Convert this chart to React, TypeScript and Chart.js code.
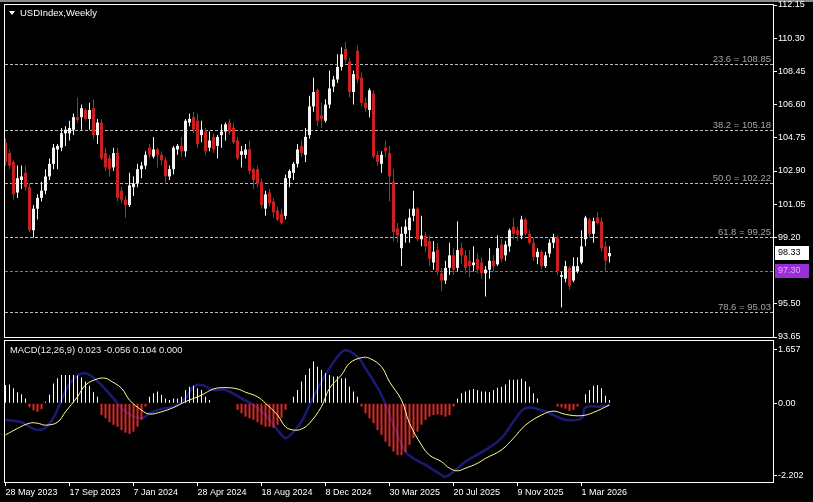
import { useEffect, useRef } from 'react';
import { Chart, registerables } from 'chart.js';

Chart.register(...registerables);

const FONT = '"Liberation Sans", Arial, sans-serif';

const chartTitle = 'USDIndex,Weekly';
const macdTitle = 'MACD(12,26,9) 0.023 -0.056 0.104 0.000';

// Weekly candles, one per week starting 28 May 2023
const opens = [
  104.5, 103.9, 103.4, 101.7, 102.4, 102.8, 102.0, 99.6, 100.8, 101.4,
  101.8, 102.6, 103.3, 104.1, 104.2, 105.0, 105.0, 105.2, 105.9, 105.9,
  106.3, 105.8, 106.4, 104.9, 105.6, 103.9, 103.6, 103.1, 103.9, 101.8,
  101.3, 101.0, 102.0, 102.2, 103.0, 103.2, 104.2, 103.7, 104.1, 103.8,
  103.5, 102.6, 103.0, 104.1, 104.3, 104.0, 105.6, 105.9, 105.7, 104.9,
  105.1, 104.2, 104.8, 104.3, 104.9, 105.1, 105.6, 105.3, 104.6, 103.8,
  103.8, 104.1, 103.0, 103.0, 102.3, 100.8, 101.7, 101.2, 100.7, 100.5,
  100.4, 102.5, 102.8, 103.3, 104.3, 103.8, 104.9, 106.5, 107.4, 106.0,
  105.7, 106.6, 107.6, 108.0, 108.7, 109.7, 109.0, 107.3, 109.6, 108.1,
  106.7, 106.3, 107.2, 103.8, 103.3, 104.2, 103.9, 102.3, 99.7, 98.6,
  99.4, 99.6, 100.4, 100.8, 99.1, 99.3, 99.0, 97.8, 98.5, 97.2,
  96.8, 97.5, 98.2, 97.5, 98.6, 98.2, 97.9, 97.65, 98.0, 97.8,
  97.2, 97.4, 97.9, 97.7, 98.8, 98.2, 98.7, 99.8, 99.6, 99.3,
  100.2, 99.4, 98.9, 98.1, 98.4, 97.6, 98.3, 98.9, 99.2, 97.0,
  96.9, 97.5, 96.8, 97.3, 97.8, 99.1, 100.2, 99.4, 100.3, 100.1,
  98.7, 98.15,
];
const highs = [
  104.7, 104.1, 103.5, 103.2, 103.2, 103.2, 102.2, 101.0, 101.6, 102.3,
  103.0, 103.6, 104.4, 104.4, 105.3, 105.4, 105.7, 106.1, 107.0, 106.6,
  106.4, 106.7, 106.9, 105.8, 105.8, 104.2, 103.8, 104.2, 104.2, 102.0,
  101.5, 102.8, 102.6, 103.3, 103.4, 104.0, 104.4, 104.8, 104.2, 104.0,
  103.7, 103.2, 104.3, 104.4, 104.8, 105.8, 106.1, 106.2, 106.1, 105.7,
  105.3, 105.1, 105.0, 104.9, 105.5, 105.6, 105.8, 105.6, 104.8, 104.3,
  104.4, 104.6, 103.1, 103.2, 102.5, 101.8, 101.9, 101.4, 100.9, 100.8,
  102.7, 103.0, 103.4, 104.4, 104.6, 105.3, 107.1, 108.1, 107.5, 106.7,
  106.9, 108.5, 108.2, 109.4, 109.8, 110.1, 109.2, 108.5, 109.9, 108.4,
  107.0, 107.5, 107.4, 104.0, 104.0, 104.6, 104.3, 103.0, 100.0, 99.8,
  100.2, 100.8, 101.8, 100.9, 100.4, 99.5, 99.3, 99.0, 98.9, 97.5,
  97.9, 98.9, 98.6, 100.1, 98.9, 98.5, 98.5, 98.7, 98.3, 98.1,
  97.6, 98.6, 98.2, 99.3, 99.1, 99.0, 99.7, 100.3, 99.8, 100.4,
  100.3, 99.6, 99.2, 98.6, 98.5, 98.4, 99.1, 99.4, 99.3, 97.3,
  97.9, 97.6, 98.1, 98.1, 99.6, 100.4, 100.3, 100.3, 100.6, 100.3,
  99.0, 98.7,
];
const lows = [
  103.2, 103.0, 101.3, 101.4, 101.9, 101.8, 99.5, 99.2, 100.2, 101.2,
  101.6, 102.4, 103.0, 103.0, 104.0, 104.3, 104.6, 104.9, 105.6, 105.2,
  105.7, 105.2, 104.7, 104.4, 103.5, 102.9, 102.6, 102.9, 101.2, 101.1,
  100.3, 100.9, 101.5, 102.0, 102.5, 103.0, 103.6, 103.6, 103.1, 103.2,
  102.2, 102.4, 102.7, 103.8, 103.7, 103.7, 105.4, 105.0, 104.2, 104.5,
  103.8, 104.0, 103.9, 103.6, 104.2, 104.6, 104.9, 104.4, 103.5, 103.1,
  103.6, 102.7, 101.9, 102.0, 100.8, 100.4, 100.9, 100.3, 100.1, 99.9,
  100.2, 102.0, 102.4, 103.1, 103.7, 103.4, 104.7, 106.2, 105.4, 105.3,
  105.6, 106.4, 107.3, 107.8, 108.5, 108.9, 107.0, 106.6, 107.8, 106.5,
  106.2, 105.9, 103.6, 103.2, 102.8, 103.7, 101.2, 99.0, 98.9, 97.6,
  98.9, 98.9, 100.1, 99.0, 98.7, 98.4, 97.6, 97.4, 97.1, 96.2,
  96.6, 97.1, 97.1, 97.3, 97.7, 97.2, 97.0, 97.3, 97.2, 96.9,
  95.9, 96.9, 97.3, 97.6, 97.8, 97.9, 98.4, 99.1, 99.0, 99.1,
  99.3, 98.8, 97.9, 97.7, 97.4, 97.5, 98.1, 98.6, 97.1, 95.3,
  96.7, 96.3, 96.7, 97.2, 97.7, 98.7, 99.2, 98.9, 99.9, 98.4,
  97.3, 97.8,
];
const closes = [
  103.4, 103.2, 101.6, 102.5, 102.6, 102.0, 99.6, 100.8, 101.4, 101.8,
  102.6, 103.3, 104.2, 104.3, 105.0, 105.2, 105.3, 105.9, 105.75, 106.4,
  105.8, 106.3, 104.9, 105.6, 103.6, 103.1, 103.0, 103.9, 101.4, 101.3,
  101.0, 102.1, 102.2, 103.0, 103.2, 103.8, 103.8, 104.1, 103.8, 103.5,
  102.6, 103.0, 104.2, 104.3, 104.0, 105.7, 105.8, 105.2, 104.4, 105.2,
  104.0, 104.6, 104.1, 104.8, 105.1, 105.5, 105.1, 104.5, 103.6, 104.0,
  104.1, 102.9, 102.4, 102.2, 101.0, 101.6, 101.1, 100.6, 100.2, 100.0,
  102.5, 102.9, 103.3, 104.1, 103.9, 104.8, 106.5, 107.3, 105.7, 105.8,
  106.6, 107.5, 108.0, 108.7, 109.4, 109.1, 107.3, 108.3, 108.0, 106.7,
  106.4, 107.4, 103.7, 103.4, 103.8, 104.0, 102.6, 99.5, 99.3, 99.4,
  99.8, 100.3, 100.8, 99.1, 99.3, 98.7, 98.0, 98.4, 97.3, 96.8,
  97.5, 98.2, 97.4, 98.5, 98.2, 97.5, 97.6, 97.8, 97.4, 97.2,
  97.4, 97.9, 97.6, 98.6, 98.0, 98.8, 99.6, 99.4, 99.35, 100.2,
  99.4, 98.9, 98.1, 98.4, 97.6, 98.2, 98.9, 99.2, 97.3, 97.1,
  97.6, 96.5, 97.6, 97.6, 98.7, 100.3, 99.4, 100.1, 100.0, 98.6,
  97.9, 98.33,
];

const priceTicks = [112.15, 110.3, 108.45, 106.6, 104.75, 102.9, 101.05, 99.2, 95.5, 93.65];
const fibPercents = ['23.6', '38.2', '50.0', '61.8', '78.6'];
const fibLevels = [108.85, 105.18, 102.22, 99.25, 95.03];
const supportLevel = 97.3;
const lastPrice = 98.33;

const dateTickBars = [0, 16, 32, 48, 64, 80, 96, 112, 128, 144];
const dateTickLabels = [
  '28 May 2023', '17 Sep 2023', '7 Jan 2024', '28 Apr 2024', '18 Aug 2024',
  '8 Dec 2024', '30 Mar 2025', '20 Jul 2025', '9 Nov 2025', '1 Mar 2026',
];

const macdHist = [
  0.56, 0.58, 0.46, 0.34, 0.28, 0.15, -0.12, -0.22, -0.26, -0.18,
  0.05, 0.26, 0.61, 0.77, 0.87, 0.87, 0.87, 0.87, 0.85, 0.79,
  0.67, 0.54, 0.34, 0.2, -0.36, -0.46, -0.58, -0.66, -0.72, -0.82,
  -0.9, -0.94, -0.87, -0.72, -0.51, -0.1, 0.2, 0.31, 0.36, 0.26,
  0.15, 0.1, 0.15, 0.15, 0.2, 0.41, 0.51, 0.54, 0.46, 0.41,
  0.2, 0.1, 0, 0.02, 0.02, 0, 0.02, 0, -0.2, -0.31,
  -0.41, -0.46, -0.51, -0.58, -0.66, -0.72, -0.72, -0.75, -0.66, -0.45,
  -0.2, 0, 0.2, 0.41, 0.67, 0.87, 1.07, 1.28, 1.12, 1.02,
  0.92, 0.87, 0.82, 0.82, 0.77, 0.77, 0.51, 0.36, 0.2, -0.1,
  -0.31, -0.46, -0.61, -0.82, -0.97, -1.18, -1.33, -1.48, -1.59, -1.59,
  -1.5, -1.28, -1.07, -0.87, -0.66, -0.51, -0.41, -0.36, -0.34, -0.36,
  -0.41, -0.36, -0.1, 0.15, 0.31, 0.36, 0.41, 0.44, 0.41, 0.36,
  0.36, 0.34, 0.41, 0.48, 0.51, 0.58, 0.72, 0.72, 0.72, 0.75,
  0.67, 0.51, 0.31, 0.15, 0.02, 0, 0, 0.02, -0.1, -0.13,
  -0.17, -0.23, -0.2, -0.1, 0, 0.28, 0.41, 0.54, 0.56, 0.46,
  0.23, 0.1,
];

// Signal line (yellow), read at these bars
const signalBars = [0, 3, 6, 8, 10, 13, 15, 18, 20, 23, 25, 26, 29, 31, 34, 36, 39, 42, 45, 49, 52, 55, 58, 60, 63, 65, 68, 70, 72, 74, 76, 79, 81, 84, 86, 89, 91, 94, 96, 99, 101, 104, 106, 109, 111, 113, 115, 118, 120, 124, 127, 130, 134, 137, 140, 144, 147, 151];
const signalValues = [-0.97, -0.77, -0.61, -0.61, -0.67, -0.58, -0.26, 0.2, 0.56, 0.75, 0.77, 0.71, 0.46, 0.1, -0.21, -0.33, -0.26, -0.13, 0.05, 0.25, 0.44, 0.48, 0.44, 0.34, 0.2, 0.0, -0.36, -0.72, -0.82, -0.79, -0.61, -0.1, 0.46, 0.87, 1.23, 1.4, 1.38, 1.12, 0.66, 0.1, -0.61, -1.28, -1.59, -1.79, -1.99, -2.07, -1.99, -1.84, -1.69, -1.43, -1.07, -0.67, -0.36, -0.24, -0.34, -0.38, -0.28, -0.05];

// MACD main line (blue), read at these bars
const macdLineBars = [0, 4, 6, 8, 10, 12, 14, 16, 19, 21, 24, 27, 30, 34, 36, 39, 42, 45, 47, 49, 52, 55, 59, 62, 65, 69, 70, 72, 74, 77, 80, 83, 85, 88, 90, 94, 97, 100, 102, 105, 109, 110, 112, 115, 120, 124, 127, 130, 134, 137, 140, 144, 145, 149, 151];
const macdLineValues = [-0.51, -0.58, -0.72, -0.82, -0.75, -0.45, 0.1, 0.6, 0.92, 0.87, 0.56, 0.15, -0.26, -0.46, -0.31, -0.17, -0.1, 0.15, 0.51, 0.56, 0.41, 0.41, 0.15, -0.05, -0.36, -0.97, -1.07, -0.87, -0.56, 0.2, 0.87, 1.43, 1.63, 1.43, 1.07, 0.25, -0.67, -1.48, -1.69, -1.89, -2.2, -2.25, -2.1, -1.79, -1.43, -1.07, -0.56, -0.15, -0.21, -0.36, -0.51, -0.46, -0.13, -0.1, -0.05];

const macdTicks = [1.657, 0, -2.202];
const macdTickLabels = ['1.657', '0.00', '-2.202'];

const BULL = '#f4f4f4';
const BEAR = '#cc1f1f';
const HIST_UP = '#ffffff';
const HIST_DOWN = '#e02626';
const X_MIN = -0.125;
const X_MAX = 191.875;

const candleColors = opens.map((o, i) => (closes[i] >= o ? BULL : BEAR));

const mainDecor = {
  id: 'mainDecor',
  beforeDraw(chart: any) {
    const { ctx, width, height } = chart;
    ctx.save();
    ctx.fillStyle = '#000';
    ctx.fillRect(0, 0, width, height);
    ctx.fillStyle = '#8a8a8a';
    ctx.fillRect(0, 0, width, 2);
    ctx.restore();
  },
  beforeDatasetsDraw(chart: any) {
    const { ctx, chartArea: a, scales } = chart;
    const y = scales.y;
    ctx.save();
    ctx.lineWidth = 1;
    ctx.setLineDash([3, 2]);
    ctx.font = `9.5px ${FONT}`;
    ctx.textAlign = 'right';
    ctx.textBaseline = 'alphabetic';
    fibLevels.forEach((lv, k) => {
      const py = Math.round(y.getPixelForValue(lv)) + 0.5;
      ctx.strokeStyle = '#bcbcbc';
      ctx.beginPath();
      ctx.moveTo(a.left, py);
      ctx.lineTo(a.right, py);
      ctx.stroke();
      ctx.fillStyle = '#a4a4a4';
      ctx.fillText(`${fibPercents[k]} = ${lv.toFixed(2)}`, a.right - 2, py - 2.5);
    });
    const sy = Math.round(y.getPixelForValue(supportLevel)) + 0.5;
    ctx.strokeStyle = '#7d6fae';
    ctx.beginPath();
    ctx.moveTo(a.left, sy);
    ctx.lineTo(a.right, sy);
    ctx.stroke();
    ctx.restore();
  },
  afterDraw(chart: any) {
    const { ctx, chartArea: a, scales } = chart;
    const y = scales.y;
    ctx.save();
    ctx.strokeStyle = '#ffffff';
    ctx.lineWidth = 1;
    ctx.strokeRect(a.left - 0.5, a.top - 0.5, a.right - a.left + 1, a.bottom - a.top + 1);
    // title
    ctx.fillStyle = '#ffffff';
    ctx.beginPath();
    ctx.moveTo(9, 11);
    ctx.lineTo(15, 11);
    ctx.lineTo(12, 15);
    ctx.closePath();
    ctx.fill();
    ctx.font = `9.5px ${FONT}`;
    ctx.textAlign = 'left';
    ctx.textBaseline = 'middle';
    ctx.fillText(chartTitle, 20, 13);
    // price boxes
    ctx.font = `9px ${FONT}`;
    const ly = y.getPixelForValue(lastPrice);
    ctx.fillStyle = '#ffffff';
    ctx.fillRect(775, Math.round(ly) - 7, 34, 14);
    ctx.fillStyle = '#000000';
    ctx.fillText(lastPrice.toFixed(2), 778, Math.round(ly));
    const sy = y.getPixelForValue(supportLevel);
    ctx.fillStyle = '#9b2fd6';
    ctx.fillRect(775, Math.round(sy) - 7, 34, 14);
    ctx.fillStyle = '#d8b0ff';
    ctx.fillText(supportLevel.toFixed(2), 778, Math.round(sy));
    ctx.restore();
  },
};

const macdDecor = {
  id: 'macdDecor',
  beforeDraw(chart: any) {
    const { ctx, width, height } = chart;
    ctx.save();
    ctx.fillStyle = '#000';
    ctx.fillRect(0, 0, width, height);
    ctx.restore();
  },
  afterDraw(chart: any) {
    const { ctx, chartArea: a } = chart;
    ctx.save();
    ctx.strokeStyle = '#ffffff';
    ctx.lineWidth = 1;
    ctx.strokeRect(a.left - 0.5, a.top - 0.5, a.right - a.left + 1, a.bottom - a.top + 1);
    ctx.fillStyle = '#ececec';
    ctx.font = `9.4px ${FONT}`;
    ctx.textAlign = 'left';
    ctx.textBaseline = 'middle';
    ctx.fillText(macdTitle, 10, 10);
    ctx.restore();
  },
};

const axisFont = { family: FONT, size: 9 };

function mainConfig(): any {
  return {
    type: 'bar',
    data: {
      datasets: [
        {
          label: 'wicks',
          data: highs.map((h, i) => ({ x: i, y: [lows[i], h] })),
          backgroundColor: candleColors,
          barThickness: 1,
          grouped: false,
          borderWidth: 0,
          inflateAmount: 0,
          order: 2,
        },
        {
          label: 'bodies',
          data: opens.map((o, i) => ({ x: i, y: [o, closes[i]] })),
          backgroundColor: candleColors,
          barThickness: 3,
          grouped: false,
          borderWidth: 0,
          inflateAmount: 0,
          minBarLength: 1,
          order: 1,
        },
      ],
    },
    options: {
      responsive: false,
      maintainAspectRatio: false,
      animation: false,
      devicePixelRatio: 1,
      events: [],
      layout: { padding: { left: 5, top: 5, right: 0, bottom: 3 } },
      plugins: { legend: { display: false }, tooltip: { enabled: false }, title: { display: false } },
      scales: {
        x: { type: 'linear', min: X_MIN, max: X_MAX, display: false, offset: false, grid: { offset: false } },
        y: {
          type: 'linear',
          position: 'right',
          min: 93.65,
          max: 112.15,
          beginAtZero: false,
          afterBuildTicks: (s: any) => {
            s.ticks = priceTicks.map((v) => ({ value: v }));
          },
          afterFit: (s: any) => {
            s.width = 40;
            s.paddingTop = 0;
            s.paddingBottom = 0;
          },
          ticks: {
            color: '#ffffff',
            font: axisFont,
            padding: 1,
            callback: (v: any) => Number(v).toFixed(2),
          },
          grid: { drawOnChartArea: false, color: '#ffffff', tickLength: 4 },
          border: { color: '#ffffff' },
        },
      },
    },
    plugins: [mainDecor],
  };
}

function macdConfig(): any {
  return {
    type: 'bar',
    data: {
      datasets: [
        {
          type: 'bar',
          label: 'hist up',
          data: macdHist.map((v, i) => ({ x: i, y: v >= 0 ? v : null })),
          backgroundColor: HIST_UP,
          barThickness: 1,
          borderWidth: 0,
          inflateAmount: 0,
          grouped: false,
          order: 2,
        },
        {
          type: 'bar',
          label: 'hist down',
          data: macdHist.map((v, i) => ({ x: i, y: v < 0 ? v : null })),
          backgroundColor: HIST_DOWN,
          barThickness: 2,
          borderWidth: 0,
          inflateAmount: 0,
          grouped: false,
          order: 2,
        },
        {
          type: 'line',
          label: 'macd',
          data: macdLineBars.map((b, k) => ({ x: b, y: macdLineValues[k] })),
          borderColor: 'rgba(30,30,140,0.85)',
          borderWidth: 2.5,
          pointRadius: 0,
          tension: 0.4,
          fill: false,
          order: 3,
        },
        {
          type: 'line',
          label: 'signal',
          data: signalBars.map((b, k) => ({ x: b, y: signalValues[k] })),
          borderColor: '#ffff99',
          borderWidth: 1,
          pointRadius: 0,
          tension: 0.4,
          fill: false,
          order: 1,
        },
      ],
    },
    options: {
      responsive: false,
      maintainAspectRatio: false,
      animation: false,
      devicePixelRatio: 1,
      events: [],
      layout: { padding: { left: 5, top: 1, right: 0, bottom: 0 } },
      plugins: { legend: { display: false }, tooltip: { enabled: false }, title: { display: false } },
      scales: {
        x: {
          type: 'linear',
          position: 'bottom',
          min: X_MIN,
          max: X_MAX,
          offset: false,
          afterBuildTicks: (s: any) => {
            s.ticks = dateTickBars.map((v) => ({ value: v }));
          },
          afterFit: (s: any) => {
            s.height = 20;
            s.paddingLeft = 0;
            s.paddingRight = 0;
          },
          ticks: {
            color: '#ffffff',
            font: axisFont,
            align: 'start',
            maxRotation: 0,
            minRotation: 0,
            autoSkip: false,
            padding: 1,
            callback: (_v: any, idx: number) => dateTickLabels[idx],
          },
          grid: { drawOnChartArea: false, color: '#ffffff', tickLength: 4, offset: false },
          border: { color: '#ffffff' },
        },
        y: {
          type: 'linear',
          position: 'right',
          min: -2.414,
          max: 1.911,
          beginAtZero: false,
          afterBuildTicks: (s: any) => {
            s.ticks = macdTicks.map((v) => ({ value: v }));
          },
          afterFit: (s: any) => {
            s.width = 40;
            s.paddingTop = 0;
            s.paddingBottom = 0;
          },
          ticks: {
            color: '#ffffff',
            font: axisFont,
            padding: 1,
            callback: (_v: any, idx: number) => macdTickLabels[idx],
          },
          grid: { drawOnChartArea: false, color: '#ffffff', tickLength: 4 },
          border: { color: '#ffffff' },
        },
      },
    },
    plugins: [macdDecor],
  };
}

export default function App() {
  const mainRef = useRef<HTMLCanvasElement>(null);
  const macdRef = useRef<HTMLCanvasElement>(null);

  useEffect(() => {
    const main = new Chart(mainRef.current as HTMLCanvasElement, mainConfig());
    const macd = new Chart(macdRef.current as HTMLCanvasElement, macdConfig());
    return () => {
      main.destroy();
      macd.destroy();
    };
  }, []);

  return (
    <div style={{ position: 'absolute', left: 0, top: 0, width: 813, height: 502, background: '#000', overflow: 'hidden' }}>
      <canvas ref={mainRef} width={813} height={340} style={{ position: 'absolute', left: 0, top: 0 }} />
      <canvas ref={macdRef} width={813} height={162} style={{ position: 'absolute', left: 0, top: 340 }} />
    </div>
  );
}
